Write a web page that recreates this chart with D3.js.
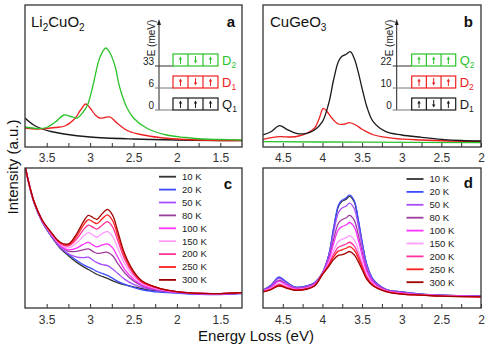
<!DOCTYPE html>
<html>
<head>
<meta charset="utf-8">
<script src="https://cdn.jsdelivr.net/npm/d3@7"></script>
<style>
body { margin: 0; background: #fff; }
text { font-family: "Liberation Sans", Arial, Helvetica, sans-serif; }
</style>
</head>
<body>
<div id="chart"></div>
<script>
// ---- panel a : Li2CuO2, calculated spectra ----
const liGreenE = [3.75,3.6,3.5,3.4,3.3,3.22,3.15,3.08,3.03,3.0,2.96,2.89,2.82,2.77,2.71,2.66,2.58,2.5,2.35,2.12,1.9,1.7,1.5,1.25]
const liGreen  = [19,17.5,18.5,24,31,29.5,28,34,41,49,63,88,98,93,79,59,39,28,18,11,8.5,7,6.5,6]
const liRedE = [3.75,3.6,3.5,3.4,3.29,3.17,3.11,3.05,3.0,2.94,2.89,2.83,2.77,2.69,2.56,2.39,2.2,2.0,1.75,1.5,1.25]
const liRed  = [18,17,17.5,18.5,20,28,36,42,38,31,28,28.5,29,23,15,11,8.5,7,6,5.5,5.5]
const liBlackE = [3.75,3.65,3.55,3.45,3.3,3.0,2.5,2.0,1.5,1.25]
const liBlack  = [28,21,17,14.5,12,9,7,6,5.5,5.5]

// ---- panel b : CuGeO3, calculated spectra ----
const cgBlackE = [4.75,4.65,4.54,4.45,4.33,4.2,4.1,4.0,3.92,3.86,3.8,3.76,3.7,3.65,3.6,3.55,3.5,3.44,3.36,3.2,3.0,2.75,2.5,2.25,2.0]
const cgBlack  = [11,14.3,20.3,16.7,12.7,12.7,16,24.3,43,66,84.3,89.3,91.7,94.3,87.7,74.3,57.7,39.3,24.3,14.3,11,8.7,6.7,5.5,5]
const cgRedE = [4.75,4.54,4.4,4.3,4.2,4.1,4.04,3.99,3.94,3.88,3.8,3.72,3.66,3.58,3.5,3.35,3.1,2.75,2.4,2.0]
const cgRed  = [6.7,9.3,9,10,12.7,17.7,27.7,37.7,34.3,27.7,22,22,23.3,21,16.7,11,7.7,6,5,4.7]
const cgGreenE = [4.75,3.5,2.0]
const cgGreen  = [4.3,3.8,3.3]

// ---- panels c, d : temperature dependence ----
const tempLabels = ["10 K","20 K","50 K","80 K","100 K","150 K","200 K","250 K","300 K"]
const tempColors = ["#333333","#3b4dff","#a64dff","#9c3c9c","#ff33ff","#ff9cff","#ff3399","#ff1f1f","#a00000"]

const energyC = [3.75,3.65,3.55,3.45,3.35,3.25,3.15,3.08,3.02,2.96,2.92,2.86,2.8,2.74,2.68,2.6,2.5,2.4,2.2,2.0,1.8,1.6,1.4,1.25]
const c10  = [143,107,86,72,60,52,45,41,38,35,33,31,29,26.5,24.5,22.5,20.5,18.5,16,14.5,13.5,13,13.5,14]
const c20  = [143,107,86,72.5,61,53.5,47,43,40.5,38,36,34,32,29,26,23,20,17.5,15,14,13,12.5,13,13.5]
const c50  = [143,107,86.5,73,61,54,50.5,50,50.5,47,45,43,42,38.5,34,28,23,20,16.5,14.5,13.5,13,13.5,14]
const c80  = [143,107.5,87,73.5,62.5,56.5,56.5,58,59,56,54.5,55,55.5,52,44,34.5,26.5,21.5,17,15,13.5,13,13.5,14]
const c100 = [143,107.5,87,74,63,58,60,63.5,65.5,62.5,61,63,64,60,50.5,38,28.5,22.5,17.5,15,13.5,13,13.5,14]
const c150 = [143,107.5,87.5,74.5,64,60,65.5,71.5,75.5,72.5,71,74.5,76.5,71.5,59.5,43.5,31,24,18,15.5,14,13.5,14,14.5]
const c200 = [143,108,87.5,75.5,65,62,69.5,78,83,80.5,79,83,86.5,81,67,48,33.5,25,18.5,15.5,14,13.5,14,14.5]
const c250 = [143,108,88,75.5,65.5,63,72.5,82.5,88.5,86,84.5,89.5,93.5,87.5,72,51,35,25.5,19,15.5,14,13.5,14,14.5]
const c300 = [143,108,88,76,66,64,75,86,93,90.3,89,94.7,99,93,76.3,53.7,36.3,26.3,19,15.7,14,13.5,14,14.5]

const energyD = [4.75,4.65,4.55,4.45,4.35,4.2,4.1,4.0,3.92,3.86,3.8,3.76,3.7,3.66,3.6,3.55,3.5,3.44,3.36,3.2,3.0,2.75,2.5,2.0]
const d10  = [17,22,30,25,20.2,21.2,24.6,34.7,52.7,79,101.8,106.7,109.4,112.3,106.7,88.7,65.6,42.6,27.8,18,15.2,13,12,11]
const d20  = [17,22,30.3,25,20.3,21.3,24.7,34.7,53,79.7,103,108,110.7,113.7,108,89.7,66.3,43,28,18,15.3,13,12,11]
const d50  = [16.8,21.3,29,24.1,19.8,20.8,24.2,34.5,51.3,75.1,95.6,100,102.5,105.3,100,83.4,62.2,40.8,27,17.7,15,12.9,11.9,10.9]
const d80  = [16.4,20.4,27.1,22.8,19.1,20.1,23.5,34.1,48.8,68.3,84.7,88.2,90.5,93,88.2,74.1,56.1,37.6,25.6,17.2,14.5,12.6,11.6,10.8]
const d100 = [16.2,19.8,25.9,22.1,18.7,19.7,23,33.9,47.3,64.2,78.3,81.2,83.4,85.7,81.2,68.5,52.5,35.7,24.7,16.9,14.2,12.5,11.5,10.7]
const d150 = [15.8,18.8,23.8,20.7,17.9,18.9,22.2,33.5,44.6,56.8,66.4,68.3,70.3,72.3,68.3,58.4,45.9,32.2,23.2,16.3,13.6,12.3,11.3,10.5]
const d200 = [15.6,18.2,22.8,20,17.5,18.5,21.9,33.3,43.2,53.2,60.6,62,63.9,65.7,62,53.4,42.6,30.5,22.4,16.1,13.4,12.2,11.2,10.4]
const d250 = [15.4,17.9,22.1,19.5,17.3,18.3,21.6,33.1,42.3,50.8,56.7,57.8,59.6,61.3,57.8,50.1,40.5,29.3,21.9,15.9,13.2,12.1,11.1,10.4]
const d300 = [15.3,17.5,21.3,19,17,18,21.3,33,41.3,48,52.3,53,54.7,56.3,53,46.3,38,28,21.3,15.7,13,12,11,10.3]

const ticksLi = [3.5,3.25,3,2.75,2.5,2.25,2,1.75,1.5]
const ticksCg = [4.5,4.25,4,3.75,3.5,3.25,3,2.75,2.5,2.25,2]

// inset level schemes
const insetALevels = ["0","6","33"]
const insetAStates = [["Q","1"],["D","1"],["D","2"]]
const insetASpins  = [[1,1,1],[1,-1,1],[1,-1,1]]
const insetBLevels = ["0","10","22"]
const insetBStates = [["D","1"],["D","2"],["Q","2"]]
const insetBSpins  = [[1,-1,1],[1,-1,1],[1,1,1]]

const BLACK = "#1a1a1a", RED = "#ee2020", GREEN = "#2cc22c"

let svg = d3.select("#chart").append("svg")
  .attr("width", 491)
  .attr("height", 348)

const isHalf = d => Math.abs(d * 2 - Math.round(d * 2)) < 1e-6

function makePanel(key, f, xDomain, ticks) {
  let x = d3.scaleLinear().domain(xDomain).range([f.x0, f.x1])
  let y = d3.scaleLinear().domain([0, 141]).range([f.y1 - 1, f.y0])

  svg.append("clipPath").attr("id", "clip-" + key)
    .append("rect")
    .attr("x", f.x0).attr("y", f.y0)
    .attr("width", f.x1 - f.x0).attr("height", f.y1 - f.y0)

  let axis = svg.append("g")
    .attr("transform", `translate(0,${f.y1})`)
    .call(d3.axisBottom(x)
      .tickValues(ticks)
      .tickSize(-4)
      .tickPadding(f.pad)
      .tickFormat(d => isHalf(d) ? String(+d.toFixed(2)) : ""))
  axis.select(".domain").remove()
  axis.selectAll("line").attr("stroke", "#333").attr("stroke-width", 1)
  axis.selectAll("text")
    .attr("font-family", '"Liberation Sans", Arial, sans-serif')
    .attr("font-size", 12)
    .attr("fill", "#333")

  let g = svg.append("g").attr("clip-path", `url(#clip-${key})`)

  svg.append("rect")
    .attr("x", f.x0).attr("y", f.y0)
    .attr("width", f.x1 - f.x0).attr("height", f.y1 - f.y0)
    .attr("fill", "none")
    .attr("stroke", "#333")
    .attr("stroke-width", 1.3)

  return { x, y, g }
}

function drawCurve(p, es, vs, color, w) {
  let line = d3.line()
    .x(d => p.x(d[0]))
    .y(d => p.y(d[1]))
    .curve(d3.curveCatmullRom.alpha(0.5))
  p.g.append("path")
    .datum(es.map((e, i) => [e, vs[i]]))
    .attr("d", line)
    .attr("fill", "none")
    .attr("stroke", color)
    .attr("stroke-width", w || 1.3)
}

function panelLetter(txt, x, y) {
  svg.append("text").attr("x", x).attr("y", y)
    .attr("text-anchor", "end")
    .attr("font-size", 15).attr("font-weight", "bold")
    .attr("fill", "#111")
    .text(txt)
}

function formula(parts, x, y) {
  // parts: [text, isSub]
  let t = svg.append("text").attr("x", x).attr("y", y).attr("font-size", 15).attr("fill", "#111")
  let wasSub = false
  parts.forEach(p => {
    let s = t.append("tspan").text(p[0])
    if (p[1] && !wasSub) s.attr("dy", 4).attr("font-size", 10)
    else if (p[1]) s.attr("font-size", 10)
    else if (wasSub) s.attr("dy", -4)
    wasSub = p[1]
  })
}

function inset(axX, boxX, boxW, levels, states, spins, colors) {
  const ys = [110, 88, 66]
  const bh = 12
  let g = svg.append("g")
  // energy axis with arrow
  g.append("line").attr("x1", axX).attr("x2", axX).attr("y1", ys[0]).attr("y2", 24)
    .attr("stroke", "#222").attr("stroke-width", 1)
  g.append("path").attr("d", `M${axX - 2},${25} L${axX},${19} L${axX + 2},${25} Z`).attr("fill", "#222")
  g.append("text")
    .attr("transform", `translate(${axX - 4},38) rotate(-90)`)
    .attr("text-anchor", "middle")
    .attr("font-size", 10).attr("fill", "#222")
    .text("E (meV)")

  levels.forEach((lab, i) => {
    g.append("line").attr("x1", axX - 4).attr("x2", boxX).attr("y1", ys[i]).attr("y2", ys[i])
      .attr("stroke", i == 2 ? "#333" : "#777").attr("stroke-width", 1)
    g.append("text").attr("x", axX - 5).attr("y", ys[i]).attr("dy", "-0.15em")
      .attr("text-anchor", "end").attr("font-size", 10).attr("fill", "#222")
      .text(lab)

    let c = colors[i]
    let cw = boxW / 3
    let top = ys[i] - bh
    g.append("rect").attr("x", boxX).attr("y", top).attr("width", boxW).attr("height", bh)
      .attr("fill", "none").attr("stroke", c).attr("stroke-width", 1.2)
    for (let k = 1; k < 3; k++) {
      g.append("line").attr("x1", boxX + k * cw).attr("x2", boxX + k * cw)
        .attr("y1", top).attr("y2", ys[i]).attr("stroke", c).attr("stroke-width", 1.2)
    }
    spins[i].forEach((s, k) => {
      let cx = boxX + cw * (k + 0.5)
      let yTip = s > 0 ? top + 2.5 : ys[i] - 2.5
      let yTail = s > 0 ? ys[i] - 2 : top + 2
      g.append("line").attr("x1", cx).attr("x2", cx).attr("y1", yTail).attr("y2", yTip + s * 2)
        .attr("stroke", c).attr("stroke-width", 1)
      g.append("path")
        .attr("d", `M${cx - 1.7},${yTip + s * 3} L${cx},${yTip} L${cx + 1.7},${yTip + s * 3} Z`)
        .attr("fill", c)
    })
    let t = g.append("text").attr("x", boxX + boxW + 4).attr("y", ys[i] - 1)
      .attr("font-size", 13).attr("fill", c)
    t.append("tspan").text(states[i][0])
    t.append("tspan").attr("dy", 3).attr("font-size", 8.5).text(states[i][1])
  })
}

function legend(x0, y0) {
  tempLabels.forEach((lab, i) => {
    let yy = y0 + i * 12.9
    svg.append("line").attr("x1", x0).attr("x2", x0 + 17).attr("y1", yy).attr("y2", yy)
      .attr("stroke", tempColors[i]).attr("stroke-width", 1.8)
    svg.append("text").attr("x", x0 + 23).attr("y", yy).attr("dy", "0.35em")
      .attr("font-size", 9.5).attr("fill", "#222")
      .text(lab)
  })
}

// ---------- panels ----------
let pa = makePanel("a", { x0: 25, x1: 242, y0: 5, y1: 147, pad: 6 }, [3.75, 1.25], ticksLi)
let pb = makePanel("b", { x0: 263, x1: 481, y0: 5, y1: 147, pad: 6 }, [4.75, 2.0], ticksCg)
let pc = makePanel("c", { x0: 25, x1: 242, y0: 168, y1: 308, pad: 7 }, [3.75, 1.25], ticksLi)
let pd = makePanel("d", { x0: 263, x1: 481, y0: 168, y1: 308, pad: 7 }, [4.75, 2.0], ticksCg)

drawCurve(pa, liBlackE, liBlack, BLACK)
drawCurve(pa, liRedE, liRed, RED)
drawCurve(pa, liGreenE, liGreen, GREEN)

drawCurve(pb, cgGreenE, cgGreen, GREEN)
drawCurve(pb, cgRedE, cgRed, RED)
drawCurve(pb, cgBlackE, cgBlack, BLACK)

const cSeries = [c10, c20, c50, c80, c100, c150, c200, c250, c300]
const dSeries = [d10, d20, d50, d80, d100, d150, d200, d250, d300]
cSeries.forEach((s, i) => drawCurve(pc, energyC, s, tempColors[i], 1.3))
dSeries.forEach((s, i) => drawCurve(pd, energyD, s, tempColors[i], 1.3))

legend(159, 176.7)
legend(406.5, 179)

inset(159, 173, 45, insetALevels, insetAStates, insetASpins, [BLACK, RED, GREEN])
inset(396.7, 411.7, 44, insetBLevels, insetBStates, insetBSpins, [BLACK, RED, GREEN])

formula([["Li", false], ["2", true], ["CuO", false], ["2", true]], 31, 27)
formula([["CuGeO", false], ["3", true]], 270, 27)

panelLetter("a", 235, 27)
panelLetter("b", 473, 27)
panelLetter("c", 232, 189)
panelLetter("d", 473, 188)

svg.append("text")
  .attr("x", 256).attr("y", 341)
  .attr("text-anchor", "middle")
  .attr("font-size", 15).attr("fill", "#111")
  .text("Energy Loss (eV)")

svg.append("text")
  .attr("transform", "translate(17.5,167) rotate(-90)")
  .attr("text-anchor", "middle")
  .attr("font-size", 15).attr("fill", "#111")
  .text("Intensity (a.u.)")
</script>
</body>
</html>
